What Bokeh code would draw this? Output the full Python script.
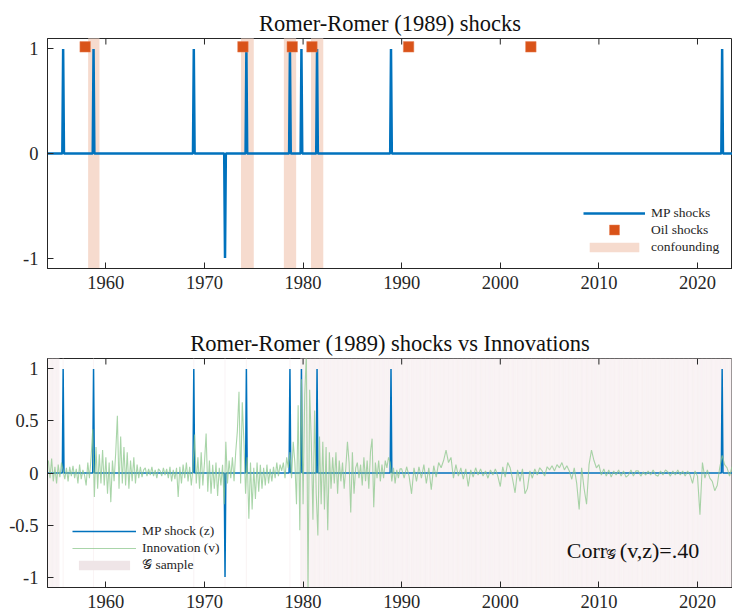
import numpy as np
from bokeh.plotting import figure
from bokeh.models import Range1d, FixedTicker, Legend, LegendItem, Label
from bokeh.layouts import column
from bokeh.embed import file_html
from bokeh.resources import INLINE

# ---------------- data ----------------
month_start = 1954 + 1 / 12
month_end = 2023.5
mp_dates = [1955.67, 1958.75, 1968.92, 1972.08, 1974.25, 1978.67, 1979.83, 1981.42, 1988.92, 2022.5]
mp_values = [1, 1, 1, -1, 1, 1, 1, 1, 1, 1]
oil_dates = [1957.9, 1973.9, 1978.9, 1980.9, 1990.7, 2003.1]
conf_start = [1958.2, 1973.7, 1978.05, 1980.8]
conf_end = [1959.35, 1975.0, 1979.3, 1982.05]

# G sample: month ranges (plus the MP shock months)
g_start = [1954.08, 1979.75]
g_end = [1955.25, 2023.5]

# Innovation (v): bi-monthly 1954-1989, quarterly 1990-2023
v_early_start = 1954 + 1 / 6
v_early_step = 1 / 6
v_early = [
    0.12, -0.05, 0.14, -0.08, 0.06,                 # 1954
    -0.10, 0.08, -0.04, 0.10, 0.02, -0.06,           # 1955
    0.05, -0.08, 0.06, -0.03, 0.07, -0.05,           # 1956
    0.04, -0.10, 0.08, -0.06, 0.03, -0.02,           # 1957
    -0.12, 0.10, -0.05, 0.15, 0.42, -0.23,           # 1958
    0.25, -0.15, 0.18, -0.10, 0.22, -0.12,           # 1959
    0.15, -0.20, 0.10, -0.28, 0.12, -0.08,           # 1960
    0.20, 0.55, -0.15, 0.35, -0.10, 0.25,            # 1961
    -0.12, 0.20, -0.15, 0.12, -0.08, 0.15,           # 1962
    -0.10, 0.08, -0.05, 0.06, -0.04, 0.03,           # 1963
    0.05, -0.03, 0.04, -0.02, 0.06, -0.03,           # 1964
    0.03, -0.05, 0.04, 0.02, -0.03, 0.05,            # 1965
    -0.02, 0.04, -0.05, 0.06, -0.08, 0.03,           # 1966
    -0.06, 0.05, -0.23, 0.06, -0.10, 0.08,           # 1967
    -0.05, 0.10, -0.08, 0.06, -0.12, 0.05,           # 1968
    0.37, -0.10, 0.15, -0.15, 0.20, -0.12,           # 1969
    0.10, 0.38, -0.18, 0.12, -0.20, 0.08,            # 1970
    -0.15, 0.10, -0.22, 0.05, -0.12, 0.08,           # 1971
    -0.30, 0.30, -0.10, 0.12, -0.05, 0.15,           # 1972
    -0.08, 0.20, 0.40, 0.78, -0.10, 0.68,            # 1973
    0.30, -0.20, 0.15, -0.44, 0.10, -0.35,           # 1974
    0.05, -0.25, 0.10, -0.18, 0.08, -0.15,           # 1975
    0.05, -0.12, 0.08, -0.10, 0.04, -0.08,           # 1976
    0.06, -0.05, 0.10, -0.03, 0.08, 0.02,            # 1977
    0.10, -0.05, 0.15, 0.05, 0.20, -0.05,            # 1978
    0.30, 0.10, -0.30, 0.65, -0.55, 0.90,            # 1979
    -0.30, 0.75, 1.15, -1.15, 0.80, 0.30,            # 1980
    -0.45, 0.60, -0.20, -0.60, 0.35, -0.30,          # 1981
    0.30, -0.35, 0.25, -0.55, 0.20, -0.15,           # 1982
    0.15, -0.10, 0.20, -0.20, 0.12, -0.08,           # 1983
    0.10, -0.15, 0.05, 0.30, 0.10, -0.38,            # 1984
    0.20, -0.20, 0.05, 0.10, -0.05, 0.08,            # 1985
    -0.12, 0.15, -0.08, 0.12, -0.15, 0.20,           # 1986
    0.33, -0.33, 0.10, -0.05, 0.12, -0.08,           # 1987
    0.08, -0.05, 0.12, 0.05, 0.15, 0.10,             # 1988
    -0.08, 0.05, -0.10, 0.03, -0.05, 0.04,           # 1989
]
v_late_start = 1990.0
v_late_step = 0.25
v_late = [
    0.04, -0.05, 0.06, -0.03,    # 1990
    -0.20, 0.05, -0.08, 0.06,    # 1991
    -0.05, 0.08, -0.10, 0.05,    # 1992
    -0.16, 0.07, -0.04, 0.10,    # 1993
    0.05, 0.12, 0.22, 0.10,      # 1994
    0.15, -0.05, 0.08, -0.03,    # 1995
    0.05, -0.06, 0.04, -0.13,    # 1996
    0.03, -0.04, 0.05, -0.02,    # 1997
    0.04, -0.03, 0.02, -0.05,    # 1998
    0.03, -0.02, 0.04, -0.03,    # 1999
    -0.13, 0.06, -0.04, 0.10,    # 2000
    0.05, -0.06, -0.19, 0.03,    # 2001
    -0.08, 0.04, -0.20, -0.15,   # 2002
    0.02, -0.05, 0.04, -0.02,    # 2003
    0.05, 0.02, -0.03, 0.06,     # 2004
    0.03, 0.07, 0.02, 0.08,      # 2005
    0.05, 0.10, 0.03, 0.07,      # 2006
    0.02, -0.06, 0.05, -0.10,    # 2007
    -0.35, 0.05, -0.15, -0.30,   # 2008
    0.08, 0.22, 0.12, 0.05,      # 2009
    0.08, -0.02, 0.04, -0.03,    # 2010
    0.03, -0.04, 0.02, -0.02,    # 2011
    0.03, -0.03, 0.02, -0.04,    # 2012
    -0.02, 0.03, -0.03, 0.02,    # 2013
    0.02, -0.03, 0.01, -0.02,    # 2014
    0.02, -0.02, 0.03, -0.02,    # 2015
    -0.03, 0.02, -0.02, 0.03,    # 2016
    0.01, -0.03, 0.02, -0.02,    # 2017
    0.03, -0.02, 0.02, -0.03,    # 2018
    0.02, -0.02, -0.10, 0.02,    # 2019
    -0.03, -0.40, 0.10, -0.05,   # 2020
    0.03, -0.05, -0.08, -0.17,   # 2021
    -0.12, 0.05, 0.17, 0.08,     # 2022
    0.05, -0.03, 0.06,           # 2023
]

x_ticks = [1960, 1970, 1980, 1990, 2000, 2010, 2020]
y_ticks_top = [-1, 0, 1]
y_labels_top = {-1: "-1", 0: "0", 1: "1"}
y_ticks_bot = [-1, -0.5, 0, 0.5, 1]
y_labels_bot = {-1: "-1", -0.5: "-0.5", 0: "0", 0.5: "0.5", 1: "1"}

title_top = "Romer-Romer (1989) shocks"
title_bot = "Romer-Romer (1989) shocks vs Innovations"

# ---------------- derived series ----------------
months = month_start + np.arange(int(round((month_end - month_start) * 12)) + 1) / 12
z = np.zeros_like(months)
for d, val in zip(mp_dates, mp_values):
    z[int(round((d - month_start) * 12))] = val

vx = np.concatenate([v_early_start + np.arange(len(v_early)) * v_early_step,
                     v_late_start + np.arange(len(v_late)) * v_late_step])
vy = np.array(v_early + v_late)

g_mask = np.zeros_like(months, dtype=bool)
for a, b in zip(g_start, g_end):
    g_mask |= (months >= a - 1e-6) & (months <= b + 1e-6)
g_mask |= z != 0
g_months = months[g_mask]

# ---------------- styling ----------------
FONT = "Liberation Serif"
BLUE = "#0072BD"
ORANGE = "#D95319"
CONF = "#F6DBCE"
GREEN = "#8CC78C"
GPINK = "#F5EBED"
AX = "#262626"
XR = (1954.08, 2023.55)
YR = (-1.1, 1.1)
FRAME_H = 229


def style(p, yt, ylab):
    p.grid.visible = False
    p.outline_line_color = AX
    p.outline_line_width = 1
    p.title.text_font = FONT
    p.title.text_font_style = "normal"
    p.title.text_font_size = "22.5px"
    p.title.text_color = "#111111"
    p.title.align = "center"
    p.title.standoff = 5
    p.xaxis.ticker = FixedTicker(ticks=x_ticks)
    p.yaxis.ticker = FixedTicker(ticks=yt)
    p.yaxis.major_label_overrides = ylab
    for ax in (p.xaxis[0], p.yaxis[0]):
        ax.major_label_text_font = FONT
        ax.major_label_text_font_size = "18.5px"
        ax.major_label_text_color = AX
        ax.major_tick_in = 6
        ax.major_tick_out = 0
        ax.minor_tick_in = 0
        ax.minor_tick_out = 0
        ax.axis_line_color = AX
        ax.major_tick_line_color = AX
    p.xaxis.major_label_standoff = 7
    p.yaxis.major_label_standoff = 9
    # inward ticks on the top edge of the box
    tick_len = 6 * (YR[1] - YR[0]) / FRAME_H
    p.segment(x0=x_ticks, y0=[YR[1]] * len(x_ticks), x1=x_ticks,
              y1=[YR[1] - tick_len] * len(x_ticks), line_color=AX, line_width=1)


def legend(items, loc, gh=12, gw=62):
    return Legend(items=items, location=loc, glyph_width=gw, glyph_height=gh, label_height=17,
                  spacing=0, padding=0, margin=0, label_standoff=6,
                  label_text_font=FONT, label_text_font_size="13.5px", label_text_color=AX,
                  background_fill_alpha=0, border_line_color=None)


# ---------------- top panel ----------------
p1 = figure(width=732, height=305, x_range=Range1d(*XR), y_range=Range1d(*YR),
            output_backend="svg", toolbar_location=None, title=title_top,
            min_border_left=47, min_border_right=0, min_border_top=38, min_border_bottom=37)

r_conf = p1.quad(left=conf_start, right=conf_end, bottom=-5, top=5,
                 fill_color=CONF, line_color=None)
r_mp = p1.line(months, z, line_color=BLUE, line_width=2.5)
r_oil = p1.scatter(oil_dates, [1.02] * len(oil_dates), marker="square", size=10.5,
                   fill_color=ORANGE, line_color="#E8845A", line_width=0.5)
style(p1, y_ticks_top, y_labels_top)

p1.add_layout(legend([LegendItem(label="MP shocks", renderers=[r_mp])], (536, 47)))
p1.add_layout(legend([LegendItem(label="Oil shocks", renderers=[r_oil])], (536, 26), gh=25))
p1.add_layout(legend([LegendItem(label="confounding", renderers=[r_conf])], (536, 13)))

# ---------------- bottom panel ----------------
p2 = figure(width=732, height=305, x_range=Range1d(*XR), y_range=Range1d(*YR),
            output_backend="svg", toolbar_location=None, title=title_bot,
            min_border_left=47, min_border_right=0, min_border_top=53, min_border_bottom=23)

r_g = p2.segment(x0=g_months, y0=-5, x1=g_months, y1=5, line_color=GPINK, line_width=0.6)
r_gleg = p2.quad(left=[0], right=[0], bottom=[0], top=[0], fill_color="#EFE5E7", line_color=None)
r_z = p2.line(months, z, line_color=BLUE, line_width=1.5)
r_v = p2.line(vx, vy, line_color=GREEN, line_width=1.1, line_alpha=0.75)
style(p2, y_ticks_bot, y_labels_bot)

leg2 = Legend(items=[LegendItem(label="MP shock (z)", renderers=[r_z]),
                     LegendItem(label="Innovation (v)", renderers=[r_v]),
                     LegendItem(label="\U0001D4A2 sample", renderers=[r_gleg])],
              location=(25, 14), glyph_width=64, glyph_height=12, label_height=17,
              spacing=0, padding=0, margin=0, label_standoff=6,
              label_text_font=FONT, label_text_font_size="13.5px", label_text_color=AX,
              background_fill_alpha=0, border_line_color=None)
p2.add_layout(leg2)

cx, cy = 2006.75, -0.74
p2.add_layout(Label(x=cx, y=cy, text="Corr", text_font=FONT, text_font_size="22px",
                    text_color="#111111", text_baseline="alphabetic"))
p2.add_layout(Label(x=cx, y=cy, x_offset=39, y_offset=-4, text="\U0001D4A2", text_font=FONT,
                    text_font_size="14px", text_color="#111111", text_baseline="alphabetic"))
p2.add_layout(Label(x=cx, y=cy, x_offset=53, text="(v,z)=.40", text_font=FONT,
                    text_font_size="22px", text_color="#111111", text_baseline="alphabetic"))

layout = column(p1, p2, spacing=0)
open("out.html", "w").write(file_html(layout, INLINE))
